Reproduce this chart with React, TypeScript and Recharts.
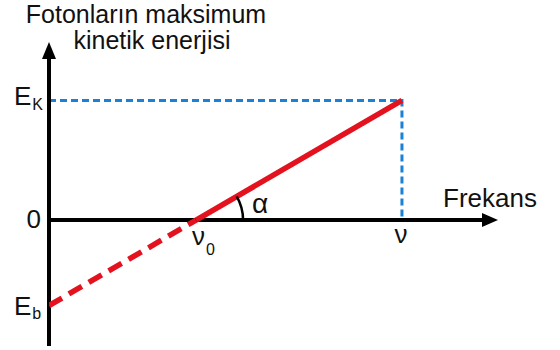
import React from "react";
import { LineChart, Line, XAxis, YAxis, ReferenceLine, ReferenceDot } from "recharts";

// threshold frequency, frequency, kinetic energy, work function (arbitrary units)
const nu0 = 3;
const nu = 7.2;
const ek = 4.2;
const eb = -3;

const solidLine = [
  { x: nu0, y: 0 },
  { x: nu, y: ek },
];
const dashedLine = [
  { x: 0, y: eb },
  { x: nu0, y: 0 },
];
const guideLine = [
  { x: 0, y: ek },
  { x: nu, y: ek },
  { x: nu, y: 0 },
];

const xDomain = [0, 9.2];
const yDomain = [-4.42, 6.25];

const W = 560;
const H = 350;
const margin = { top: 42, right: 60, bottom: 4, left: 49 };

const RED = "#e3121e";
const BLUE = "#1a82d6";
const FONT = "'Liberation Sans', Arial, sans-serif";

const pxX = (W - margin.left - margin.right) / (xDomain[1] - xDomain[0]);
const pxY = (H - margin.top - margin.bottom) / (yDomain[1] - yDomain[0]);
const slopeAngle = Math.atan2(ek * pxY, (nu - nu0) * pxX);

function TextMark(props: any) {
  const { cx, cy, dx = 0, dy = 0, anchor = "middle", size = 26, main, sub, subDy = 6 } = props;
  return (
    <text
      x={cx + dx}
      y={cy + dy}
      textAnchor={anchor}
      fontFamily={FONT}
      fontSize={size}
      fill="#111"
    >
      {main}
      {sub ? (
        <tspan fontSize={16} dx={1} dy={subDy}>
          {sub}
        </tspan>
      ) : null}
    </text>
  );
}

function ArrowUp(props: any) {
  const { cx, cy } = props;
  return <polygon points={`${cx},${cy} ${cx - 7},${cy + 17} ${cx + 7},${cy + 17}`} fill="#000" />;
}

function ArrowRight(props: any) {
  const { cx, cy } = props;
  return <polygon points={`${cx - 2},${cy} ${cx - 18},${cy - 7} ${cx - 18},${cy + 7}`} fill="#000" />;
}

function AngleArc(props: any) {
  const { cx, cy } = props;
  const r = 47;
  const ex = cx + r * Math.cos(slopeAngle);
  const ey = cy - r * Math.sin(slopeAngle);
  return (
    <path
      d={`M ${cx + r} ${cy} A ${r} ${r} 0 0 0 ${ex} ${ey}`}
      fill="none"
      stroke="#000"
      strokeWidth={2.5}
    />
  );
}

export default function App() {
  return (
    <div style={{ position: "absolute", left: 0, top: 0, background: "#fff" }}>
      <LineChart width={W} height={H} margin={margin}>
        <XAxis type="number" dataKey="x" domain={xDomain} hide allowDataOverflow />
        <YAxis type="number" dataKey="y" domain={yDomain} hide allowDataOverflow />

        <Line
          data={guideLine}
          dataKey="y"
          stroke={BLUE}
          strokeWidth={3}
          strokeDasharray="7 4"
          dot={false}
          isAnimationActive={false}
        />
        <ReferenceLine
          segment={[
            { x: 0, y: yDomain[0] },
            { x: 0, y: 5.9 },
          ]}
          stroke="#000"
          strokeWidth={4}
          ifOverflow="visible"
        />
        <ReferenceLine
          segment={[
            { x: 0, y: 0 },
            { x: 8.9, y: 0 },
          ]}
          stroke="#000"
          strokeWidth={4}
          ifOverflow="visible"
        />
        <Line
          data={dashedLine}
          dataKey="y"
          stroke={RED}
          strokeWidth={5.5}
          strokeDasharray="15 8"
          dot={false}
          isAnimationActive={false}
        />
        <Line
          data={solidLine}
          dataKey="y"
          stroke={RED}
          strokeWidth={5.5}
          dot={false}
          isAnimationActive={false}
        />

        <ReferenceDot x={0} y={yDomain[1]} ifOverflow="visible" shape={<ArrowUp />} />
        <ReferenceDot x={xDomain[1]} y={0} ifOverflow="visible" shape={<ArrowRight />} />
        <ReferenceDot x={nu0} y={0} ifOverflow="visible" shape={<AngleArc />} />

        <ReferenceDot x={0} y={yDomain[1]} ifOverflow="visible" shape={<TextMark dx={97} dy={-19} size={25} main="Fotonların maksimum" />} />
        <ReferenceDot x={0} y={yDomain[1]} ifOverflow="visible" shape={<TextMark dx={103} dy={7} size={25} main="kinetik enerjisi" />} />
        <ReferenceDot x={0} y={ek} ifOverflow="visible" shape={<TextMark dx={-35} dy={5} anchor="start" main="E" sub="K" subDy={5} />} />
        <ReferenceDot x={0} y={0} ifOverflow="visible" shape={<TextMark dx={-8} dy={8} anchor="end" main="0" />} />
        <ReferenceDot x={0} y={eb} ifOverflow="visible" shape={<TextMark dx={-35} dy={9} anchor="start" main="E" sub="b" subDy={4} />} />
        <ReferenceDot x={nu0} y={0} ifOverflow="visible" shape={<TextMark dx={-4} dy={25} anchor="start" main="ν" sub="0" subDy={10} />} />
        <ReferenceDot x={nu} y={0} ifOverflow="visible" shape={<TextMark dx={-1} dy={23} main="ν" />} />
        <ReferenceDot x={nu0} y={0} ifOverflow="visible" shape={<TextMark dx={56} dy={-7} anchor="start" main="α" size={28} />} />
        <ReferenceDot x={xDomain[1]} y={0} ifOverflow="visible" shape={<TextMark dx={-57} dy={-13} anchor="start" main="Frekans" />} />
      </LineChart>
    </div>
  );
}
